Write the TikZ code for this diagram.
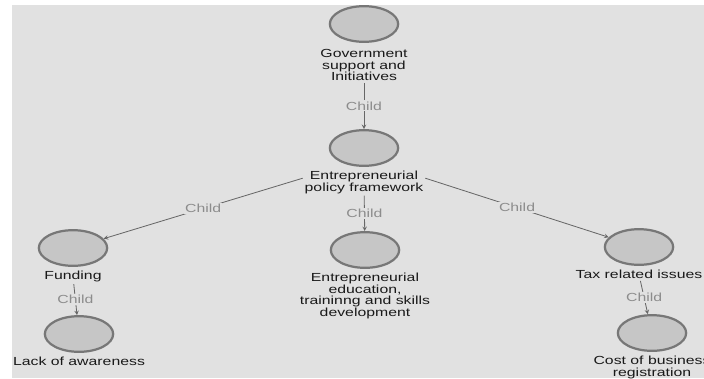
\documentclass[tikz,border=0pt]{standalone}
\usepackage{fontspec}
\newfontfamily\lblfont[FakeStretch=1.35]{Liberation Sans}
\usepackage{tikz}
\usetikzlibrary{shapes,arrows,positioning}
\definecolor{bgcol}{HTML}{E1E1E1}
\definecolor{circfill}{HTML}{C6C6C6}
\definecolor{circline}{HTML}{777777}
\definecolor{edgecol}{HTML}{666666}
\definecolor{childcol}{HTML}{8C8C8C}

\begin{document}
\begin{tikzpicture}[
    x=0.03cm, y=-0.03cm,
    node distance=2pt,
    topic/.style={ellipse, draw=circline, fill=circfill, line width=1.9pt, minimum width=2.05cm, minimum height=1.07cm},
    topiclabel/.style={align=center, inner sep=1.5pt, text=black!90, font=\lblfont\fontsize{10}{9.8}\selectfont},
    childlabel/.style={fill=bgcol, inner sep=1pt, text=childcol, font=\lblfont\fontsize{10}{10}\selectfont},
    arrow/.style={->, >=stealth, draw=edgecol, line width=0.7pt}
]

% canvas
\useasboundingbox (0,0) rectangle (704,378);
\fill[bgcol] (12,5) rectangle (704,378);

% topics
\node[topic] (gov) at (364,24) {};
\node[topic] (pol) at (364,148) {};
\node[topic] (edu) at (365,250) {};
\node[topic] (fund) at (73,248) {};
\node[topic] (lack) at (79,334) {};
\node[topic] (tax) at (639,247) {};
\node[topic] (cost) at (652,333) {};

% topic labels
\node[topiclabel, below=4pt of gov] (govtext) {Government\\support and\\Initiatives};
\node[topiclabel, below=of pol] (poltext) {Entrepreneurial\\policy framework};
\node[topiclabel, below=of edu] (edutext) {Entrepreneurial\\education,\\traininng and skills\\development};
\node[topiclabel, below=of fund] (fundtext) {Funding};
\node[topiclabel, below=of lack] (lacktext) {Lack of awareness};
\node[topiclabel, below=of tax] (taxtext) {Tax related issues};
\node[topiclabel, below=of cost] (costtext) {Cost of business\\registration};

% child links
\draw[arrow] (govtext) -- node[childlabel] {Child} (pol);
\draw[arrow] (poltext) -- node[childlabel] {Child} (edu);
\draw[arrow] (poltext.176) -- node[childlabel] {Child} (fund);
\draw[arrow] (poltext.4) -- node[childlabel] {Child} (tax);
\draw[arrow] (fundtext) -- node[childlabel] {Child} (lack);
\draw[arrow] (taxtext) -- node[childlabel] {Child} (cost);

\end{tikzpicture}
\end{document}
